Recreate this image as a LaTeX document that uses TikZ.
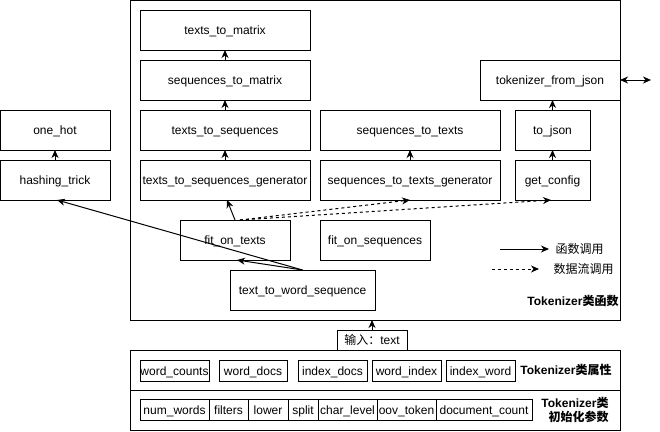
\documentclass[tikz,border=0pt]{standalone}
\usepackage{fontspec}
\setmainfont{Liberation Sans}
\newfontfamily\cjk{Noto Sans CJK SC}
\usetikzlibrary{arrows.meta,calc}
\begin{document}
\begin{tikzpicture}[x=1pt,y=-1pt,
  font=\fontsize{12}{14}\selectfont, line width=1pt,
  box/.style={draw, inner sep=0pt, outer sep=0pt, line width=1pt, text height=9pt, text depth=0pt},
  fbox/.style={box, minimum height=40},
  abox/.style={box, minimum height=21},
  tip/.tip={Stealth[length=8pt,width=7pt,inset=2.5pt]},
  fn/.style={-tip},
  df/.style={-tip, dash pattern=on 3pt off 3pt},
  lbl/.style={font=\bfseries\fontsize{12}{14}\selectfont, inner sep=0pt}]
\useasboundingbox (0,0) rectangle (660,431);

% container
\node[box, minimum width=490, minimum height=319.5, anchor=north west] (cont) at (130,0.5) {};

% left column
\node[fbox, minimum width=170] (ttm)  at (225,30)  {texts\_to\_matrix};
\node[fbox, minimum width=170] (stm)  at (225,80)  {sequences\_to\_matrix};
\node[fbox, minimum width=170] (tts)  at (225,130) {texts\_to\_sequences};
\node[fbox, minimum width=170] (ttsg) at (225,180) {texts\_to\_sequences\_generator};
% middle column
\node[fbox, minimum width=180] (stt)  at (410,130) {sequences\_to\_texts};
\node[fbox, minimum width=180] (sttg) at (410,180) {sequences\_to\_texts\_generator};
% right column
\node[fbox, minimum width=140] (tfj)  at (550,80)  {tokenizer\_from\_json};
\node[fbox, minimum width=75]  (tojson) at (552.5,130) {to\_json};
\node[fbox, minimum width=75]  (getc)   at (552.5,180) {get\_config};
% outside
\node[fbox, minimum width=110] (onehot) at (55,130) {one\_hot};
\node[fbox, minimum width=110] (hash)   at (55,180) {hashing\_trick};
% lower
\node[fbox, minimum width=110] (fot)  at (235,240) {fit\_on\_texts};
\node[fbox, minimum width=110] (fos)  at (375,240) {fit\_on\_sequences};
\node[fbox, minimum width=145] (ttws) at (302.5,290) {text\_to\_word\_sequence};

% connectors
\draw[fn] (ttsg.north) -- (tts.south);
\draw[fn] (tts.north) -- (stm.south);
\draw[fn] (stm.north) -- (ttm.south);
\draw[fn] (sttg.north) -- (stt.south);
\draw[fn] (getc.north) -- (tojson.south);
\draw[fn] (tojson.north) -- (tojson.north |- tfj.south);
\draw[fn] (hash.north) -- (onehot.south);
\draw[fn] (fot.north) -- ([xshift=2pt]ttsg.south);
\draw[df] ([xshift=5pt]fot.north) -- (sttg.south);
\draw[df] ([xshift=5pt]fot.north) -- ([xshift=-1.5pt]getc.south);
\draw[fn] (ttws.north) -- ([xshift=2pt]fot.south);
\draw[fn] (ttws.north) -- ([xshift=2pt]hash.south);
\coordinate (ext) at (651,80);
\draw[tip-tip] (tfj.east) -- (ext);

% legend
\coordinate (l1a) at (500,249);
\coordinate (l1b) at (549,249);
\draw[fn] (l1a) -- (l1b);
\node[anchor=west, inner sep=0pt] (l1t) at (555,249) {\cjk 函数调用};
\coordinate (l2a) at (492,269);
\coordinate (l2b) at (539,269);
\draw[df] (l2a) -- (l2b);
\node[anchor=west, inner sep=0pt] (l2t) at (553,269) {\cjk 数据流调用};
\node[lbl, anchor=east] (lfun) at (619,301) {Tokenizer{\cjk 类函数}};

% input
\node[box, minimum width=70, minimum height=20] (inp) at (372,340) {{\cjk 输入：}text};
\draw[fn] (inp.north) -- (inp.north |- cont.south);

% attributes
\node[box, minimum width=490, minimum height=40] (attr) at (375,370) {};
\node[box, minimum width=490, minimum height=40] (par)  at (375,410) {};
\node[abox, minimum width=69] (a1) at (174.5,370.5) {word\_counts};
\node[abox, minimum width=68] (a2) at (253,370.5) {word\_docs};
\node[abox, minimum width=69] (a3) at (332.5,370.5) {index\_docs};
\node[abox, minimum width=69] (a4) at (406.5,370.5) {word\_index};
\node[abox, minimum width=69] (a5) at (480.5,370.5) {index\_word};
\node[lbl, anchor=east] (lattr) at (612,370) {Tokenizer{\cjk 类属性}};

\node[abox, minimum width=69] (p1) at (174.5,410) {num\_words};
\node[abox, minimum width=39] (p2) at (228.5,410) {filters};
\node[abox, minimum width=40] (p3) at (268,410) {lower};
\node[abox, minimum width=30] (p4) at (303,410) {split};
\node[abox, minimum width=59] (p5) at (347.5,410) {char\_level};
\node[abox, minimum width=59] (p6) at (406.5,410) {oov\_token};
\node[abox, minimum width=96] (p7) at (484,410) {document\_count};
\node[lbl, anchor=east, align=right] (lpar) at (609,410) {Tokenizer{\cjk 类}\\{\cjk 初始化参数}};
\end{tikzpicture}
\end{document}
